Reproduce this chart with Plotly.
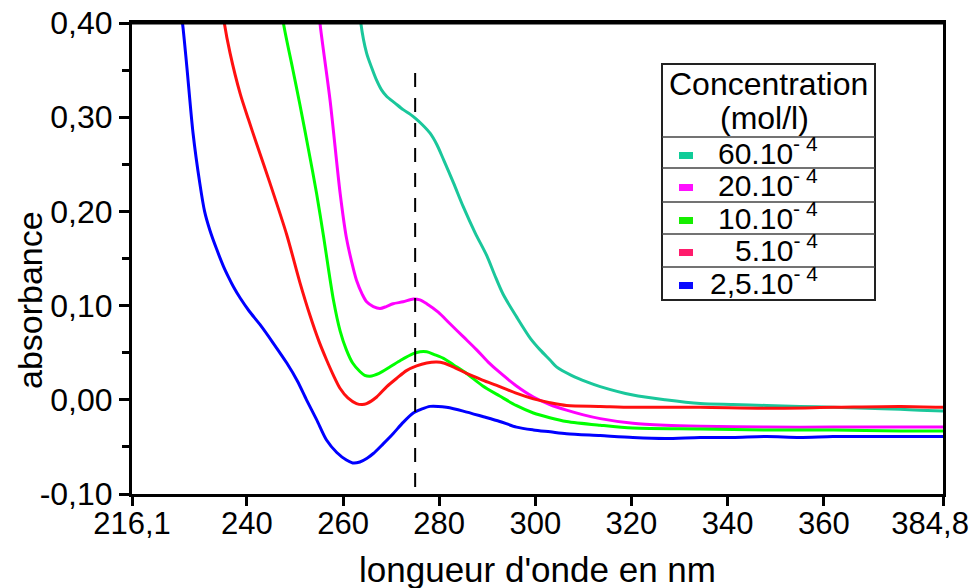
import plotly.graph_objects as go

# absorbance spectra
wl_25 = [226.0, 226.6, 227.5, 228.8, 230.2, 231.2, 232.3, 233.7, 235.1, 236.2, 237.2, 238.6, 240.5, 242.7,
         245.5, 248.3, 250.5, 252.4, 254.5, 256.6, 258.7, 260.7, 262.0, 263.5, 265.0, 266.3, 268.3, 270.4,
         272.5, 274.6, 276.3, 278.1, 279.8, 281.5, 285.0, 289.2, 292.6, 296.1, 299.6, 303.1, 306.5, 313.5,
         320.3, 327.0, 334.3, 341.0, 348.1, 355.0, 361.9, 370.0, 377.0, 384.8]
abs_25 = [0.42, 0.40, 0.354, 0.283, 0.230, 0.200, 0.180, 0.160, 0.142, 0.130, 0.120, 0.108, 0.094, 0.080,
          0.060, 0.039, 0.020, 0.000, -0.021, -0.043, -0.056, -0.064, -0.067, -0.066, -0.062, -0.057, -0.047, -0.036,
          -0.024, -0.014, -0.010, -0.007, -0.007, -0.008, -0.012, -0.018, -0.023, -0.029, -0.032, -0.034, -0.036,
          -0.038, -0.040, -0.041, -0.040, -0.040, -0.039, -0.040, -0.039, -0.039, -0.039, -0.039]

wl_5 = [234.8, 235.3, 236.5, 238.6, 240.3, 242.0, 244.8, 248.3, 251.0, 253.1, 255.0, 256.6, 258.0, 259.4,
        261.0, 262.8, 264.0, 264.9, 267.0, 269.1, 271.2, 273.2, 275.3, 277.4, 279.5, 280.9, 283.3, 285.7,
        289.0, 292.6, 296.0, 299.6, 303.0, 306.5, 313.5, 320.3, 334.3, 348.0, 362.0, 376.0, 384.8]
abs_5 = [0.42, 0.40, 0.368, 0.325, 0.298, 0.272, 0.230, 0.175, 0.125, 0.090, 0.062, 0.042, 0.026, 0.012,
         0.002, -0.004, -0.005, -0.004, 0.003, 0.014, 0.023, 0.031, 0.036, 0.039, 0.040, 0.039, 0.034, 0.028,
         0.021, 0.014, 0.007, 0.001, -0.003, -0.006, -0.007, -0.008, -0.008, -0.009, -0.008, -0.007, -0.008]

wl_10 = [247.2, 247.6, 249.5, 251.0, 252.8, 254.5, 255.9, 258.0, 259.4, 260.7, 262.0, 263.5, 264.5, 265.6,
         267.5, 269.8, 272.0, 274.6, 276.0, 277.4, 279.0, 280.9, 283.0, 285.7, 289.0, 292.6, 296.0, 299.6,
         303.0, 306.5, 313.5, 320.3, 334.3, 348.0, 362.0, 376.0, 384.8]
abs_10 = [0.42, 0.40, 0.352, 0.314, 0.266, 0.219, 0.175, 0.106, 0.073, 0.053, 0.039, 0.030, 0.026, 0.025,
          0.028, 0.035, 0.042, 0.049, 0.051, 0.051, 0.048, 0.044, 0.037, 0.028, 0.015, 0.004, -0.006, -0.014,
          -0.019, -0.023, -0.027, -0.030, -0.031, -0.032, -0.032, -0.033, -0.033]

wl_20 = [254.9, 255.2, 257.3, 259.4, 260.7, 262.1, 262.8, 264.0, 264.9, 266.3, 267.7, 269.0, 270.4, 272.5,
         274.6, 276.0, 277.4, 279.8, 282.2, 285.0, 287.8, 290.2, 292.6, 296.0, 299.6, 303.0, 306.5, 310.0,
         313.5, 320.3, 327.0, 334.3, 348.0, 362.0, 376.0, 384.8]
abs_20 = [0.42, 0.40, 0.318, 0.219, 0.172, 0.140, 0.127, 0.112, 0.104, 0.099, 0.097, 0.099, 0.102, 0.104,
          0.107, 0.106, 0.102, 0.093, 0.081, 0.067, 0.053, 0.040, 0.029, 0.015, 0.003, -0.005, -0.011, -0.016,
          -0.020, -0.025, -0.027, -0.028, -0.029, -0.029, -0.029, -0.029]

wl_60 = [263.4, 263.7, 264.9, 266.0, 267.0, 268.0, 269.1, 270.8, 272.5, 274.0, 275.0, 276.5, 278.1, 279.5,
         280.9, 283.0, 285.0, 287.5, 289.9, 291.5, 293.3, 296.1, 299.0, 301.0, 303.1, 304.4, 307.5, 310.7,
         313.5, 320.3, 327.0, 334.3, 341.0, 348.1, 355.0, 361.9, 369.0, 375.9, 380.0, 384.8]
abs_60 = [0.42, 0.40, 0.368, 0.352, 0.339, 0.329, 0.322, 0.315, 0.308, 0.303, 0.299, 0.292, 0.283, 0.271,
          0.255, 0.230, 0.205, 0.177, 0.153, 0.133, 0.112, 0.088, 0.065, 0.053, 0.042, 0.035, 0.026, 0.019,
          0.014, 0.005, 0.000, -0.004, -0.005, -0.006, -0.007, -0.008, -0.009, -0.010, -0.011, -0.012]

# vertical dashed marker
marker_wl = [275.0, 275.0]
marker_abs = [0.347, -0.10]

x_tickvals = [216.1, 240, 260, 280, 300, 320, 340, 360, 384.8]
# trailing no-break spaces pull the last label left so it stays inside the page
x_ticktext = ['216,1', '240', '260', '280', '300', '320', '340', '360', '384,8\u00a0\u00a0\u00a0']
y_tickvals = [-0.10, 0.00, 0.10, 0.20, 0.30, 0.40]
y_ticktext = ['-0,10', '0,00', '0,10', '0,20', '0,30', '0,40']

legend_labels = ['60.10<sup>- 4</sup>', '20.10<sup>- 4</sup>', '10.10<sup>- 4</sup>',
                 '5.10<sup>- 4</sup>', '2,5.10<sup>- 4</sup>']
legend_swatches = ['#10cc98', '#ff10ff', '#16ee00', '#ff1c6c', '#0a0aff']

series = [(wl_60, abs_60, '#1ac79b'), (wl_20, abs_20, '#ff00ff'), (wl_10, abs_10, '#00ff00'),
          (wl_5, abs_5, '#ff1010'), (wl_25, abs_25, '#0000ff')]

FONT = 'Liberation Sans, Arial, sans-serif'
OFF = 8  # page body margin in the browser
L, R, T, B = 132 - OFF, 36, 23 - OFF, 94
W, H = 979 - OFF, 588 - OFF
PW, PH = W - L - R, H - T - B


# screen pixel -> paper coordinates
def px(x):
    return (x - OFF - L) / PW


def py(y):
    return (H - B - (y - OFF)) / PH


def note(text, x, y, size, **kw):
    d = dict(text=text, x=px(x), y=py(y), xref='paper', yref='paper', showarrow=False,
             xanchor='center', yanchor='middle', font=dict(size=size, color='black', family=FONT))
    d.update(kw)
    return d


fig = go.Figure()
for wl, ab, col in series:
    fig.add_trace(go.Scatter(x=wl, y=ab, mode='lines', line=dict(color=col, width=3, shape='spline', smoothing=0.8),
                             showlegend=False, hoverinfo='skip'))
fig.add_trace(go.Scatter(x=marker_wl, y=marker_abs, mode='lines', showlegend=False, hoverinfo='skip',
                         line=dict(color='black', width=2, dash='14px,11px')))

# legend drawn as a ruled box
shapes = [dict(type='rect', xref='paper', yref='paper', x0=px(662), x1=px(875), y0=py(300), y1=py(64),
               line=dict(color='#222', width=2), fillcolor='white', layer='below')]
for yl in [137, 168, 202, 234, 267]:
    shapes.append(dict(type='line', xref='paper', yref='paper', x0=px(662), x1=px(875), y0=py(yl), y1=py(yl),
                       line=dict(color='#444', width=1.5)))
# frame line along the top of the plot area
shapes.append(dict(type='line', xref='paper', yref='paper', x0=0, x1=1, y0=1, y1=1,
                   line=dict(color='black', width=3)))
annotations = [
    note('Concentration', 768, 84, 32),
    note('(mol/l)', 764, 118, 32),
    note('absorbance', 30, 300, 34, textangle=-90),
    note("longueur d'onde en nm", 537, 569, 35),
]
row_y = [153, 185, 218, 250, 283]
for i, (lab, sw) in enumerate(zip(legend_labels, legend_swatches)):
    shapes.append(dict(type='rect', xref='paper', yref='paper', x0=px(679), x1=px(693),
                       y0=py(row_y[i] + 6), y1=py(row_y[i] - 1), line=dict(width=0), fillcolor=sw))
    annotations.append(note(lab, 820, row_y[i] - 2, 30, xanchor='right'))

fig.update_xaxes(range=[216.1, 384.8], tickvals=x_tickvals, ticktext=x_ticktext, ticks='outside', ticklen=9,
                 tickwidth=3, tickcolor='black', showline=True, linewidth=3, linecolor='black', mirror=True,
                 showgrid=False, zeroline=False, automargin=False, ticklabeloverflow='allow',
                 ticklabelstandoff=-9, tickfont=dict(size=31, color='black', family=FONT))
fig.update_yaxes(range=[-0.10, 0.40], tickvals=y_tickvals, ticktext=y_ticktext, ticks='outside', ticklen=10,
                 tickwidth=3, tickcolor='black', showline=True, linewidth=3, linecolor='black', mirror=True,
                 showgrid=False, zeroline=False, automargin=False, ticklabeloverflow='allow',
                 tickfont=dict(size=32, color='black', family=FONT),
                 minor=dict(ticks='outside', ticklen=7, tickwidth=3, tickcolor='black', dtick=0.05,
                            tick0=-0.10, showgrid=False))
fig.update_layout(width=W, height=H, margin=dict(l=L, r=R, t=T, b=B, autoexpand=False), plot_bgcolor='white',
                  paper_bgcolor='white', shapes=shapes, annotations=annotations, showlegend=False,
                  font=dict(family=FONT, color='black'))
fig.write_html('out.html')
